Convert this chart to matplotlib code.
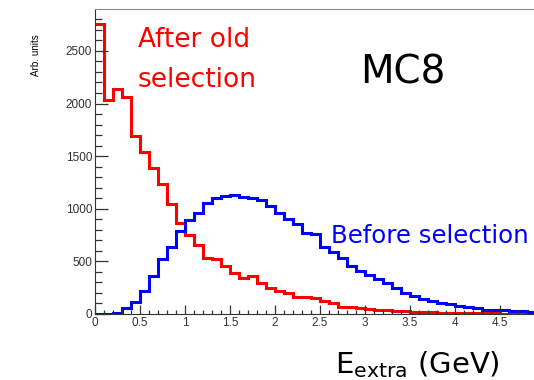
import numpy as np
import matplotlib.pyplot as plt
from matplotlib.ticker import MultipleLocator

# E_extra spectrum, 0.1 GeV bins from 0 to 5 GeV
bin_edges = np.linspace(0, 5, 51)

before_selection = [0, 2, 13, 54, 117, 218, 361, 519, 636, 785,
                    895, 958, 1050, 1100, 1122, 1132, 1110, 1100, 1085, 1027,
                    956, 903, 852, 766, 758, 632, 585, 535, 455, 410,
                    370, 329, 292, 248, 203, 171, 142, 126, 109, 98,
                    76, 70, 60, 42, 38, 36, 26, 30, 18, 15]

after_old_selection = [2760, 2032, 2134, 2058, 1690, 1541, 1384, 1238, 1045, 861,
                       750, 660, 533, 525, 460, 392, 339, 358, 295, 244,
                       222, 196, 158, 165, 149, 126, 107, 70, 63, 54,
                       48, 42, 36, 30, 26, 22, 20, 17, 14, 12,
                       10, 8, 7, 6, 5, 4, 3, 3, 2, 2]

fig = plt.figure(figsize=(5.34, 3.80), dpi=100)
ax = fig.add_axes([0.1779, 0.1737, 0.8427, 0.8026])

ax.stairs(after_old_selection, bin_edges, baseline=None, color="#ff0000", linewidth=2.2)
ax.stairs(before_selection, bin_edges, baseline=None, color="#0000ff", linewidth=2.2)

ax.set_xlim(0, 5)
ax.set_ylim(0, 1.05 * max(after_old_selection))

ax.xaxis.set_major_locator(MultipleLocator(0.5))
ax.xaxis.set_minor_locator(MultipleLocator(0.1))
ax.yaxis.set_major_locator(MultipleLocator(500))
ax.yaxis.set_minor_locator(MultipleLocator(100))
# the 5 GeV label falls off the right edge, leave it blank
ax.xaxis.set_major_formatter(lambda v, pos: "" if v > 4.9 else "%g" % v)

for lab in ax.get_xticklabels() + ax.get_yticklabels():
    lab.set_fontfamily("Liberation Sans")
    lab.set_fontsize(8.5)
ax.tick_params(axis="both", which="both", direction="in", colors="#333333",
               labelcolor="#333333", width=0.9, pad=2,
               top=False, right=False)
ax.tick_params(axis="y", which="major", length=9.5)
ax.tick_params(axis="y", which="minor", length=4.7)
ax.tick_params(axis="x", which="major", length=6.5)
ax.tick_params(axis="x", which="minor", length=3)

ax.spines["left"].set_color("#333333")
ax.spines["bottom"].set_color("#333333")
ax.spines["top"].set_color("#888888")
ax.spines["right"].set_visible(False)

fig.text(36 / 534, 1 - 55 / 380, "Arb. units", rotation=90, ha="center", va="center",
         fontsize=7.1, family="Liberation Sans")

fig.text(138 / 534, 1 - 47 / 380, "After old", color="#ff0000",
         fontsize=19, ha="left", va="baseline")
fig.text(138 / 534, 1 - 87 / 380, "selection", color="#ff0000",
         fontsize=19, ha="left", va="baseline")
fig.text(360 / 534, 1 - 83 / 380, "MC8", color="black", fontsize=28,
         ha="left", va="baseline")
fig.text(331 / 534, 1 - 243 / 380, "Before selection", color="#0000ff",
         fontsize=17.6, ha="left", va="baseline")
fig.text(335 / 534, 1 - 373 / 380, r"$\mathrm{E}_{\mathrm{extra}}$ (GeV)",
         color="black", fontsize=21, ha="left", va="baseline")

fig.savefig("out.png", dpi=100)
